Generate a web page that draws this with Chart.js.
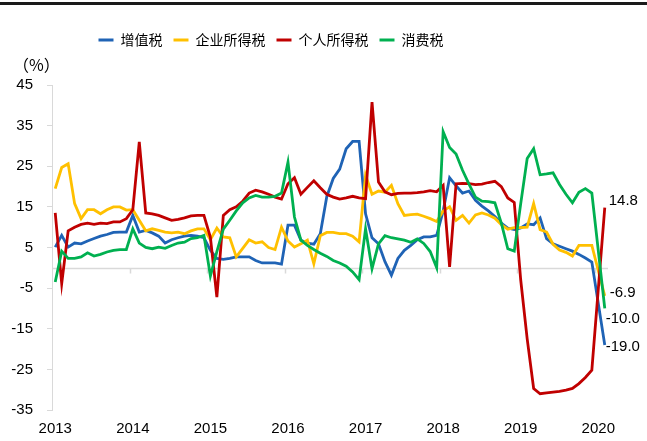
<!DOCTYPE html>
<html>
<head>
<meta charset="utf-8">
<title>税收收入增速</title>
<script src="https://cdn.jsdelivr.net/npm/chart.js@4.4.1/dist/chart.umd.min.js"></script>
<style>
  html, body { margin: 0; padding: 0; background: #fff; }
  #wrap { width: 647px; height: 441px; }
</style>
</head>
<body>
<div id="wrap"><canvas id="taxChart" width="647" height="441"></canvas></div>
<script>
// years shown on the x axis, data is monthly from Jan 2013 to Feb 2020
var yearLabels = ["2013", "2014", "2015", "2016", "2017", "2018", "2019", "2020"];
var lastYearMonths = 2;

var seriesNames = ["增值税", "企业所得税", "个人所得税", "消费税"];

// 增值税
var vatData = [
  5.1, 8.0, 5.1, 6.1, 5.9, 6.6, 7.2, 7.8, 8.2, 8.7, 8.8, 8.8,
  12.9, 8.8, 9.2, 8.6, 7.8, 6.1, 6.9, 7.4, 7.8, 8.0, 7.8, 7.4,
  4.3, 2.3, 2.1, 2.3, 2.7, 2.7, 2.7, 1.8, 1.2, 1.2, 1.2, 0.9,
  10.5, 10.5, 6.8, 6.1, 5.8, 8.4, 17.5, 22.0, 24.3, 29.3, 31.1, 31.1,
  13.3, 7.4, 5.9, 1.5, -1.8, 2.3, 4.3, 5.5, 6.9, 7.6, 7.6, 8.0,
  14.0, 22.2, 20.2, 18.4, 18.9, 16.6, 15.2, 14.0, 12.6, 11.0, 9.8, 9.4,
  9.8, 10.8, 10.6, 12.3, 7.2, 5.9, 5.3, 4.7, 4.1, 3.3, 2.4, 1.4,
  null, -19.0
];

// 企业所得税
var corpData = [
  19.5, 24.7, 25.6, 15.8, 12.1, 14.3, 14.3, 13.3, 14.3, 15.0, 15.0, 14.2,
  14.3, 11.7, 9.1, 9.6, 9.2, 8.8, 8.6, 8.8, 8.4, 9.1, 9.6, 9.6,
  6.9, 9.8, 7.6, 7.4, 2.7, 4.8, 6.9, 6.1, 6.4, 5.0, 4.5, 10.0,
  6.6, 5.1, 5.9, 6.8, 1.0, 7.9, 8.7, 8.7, 8.4, 8.4, 7.8, 6.4,
  22.8, 18.1, 18.9, 18.6, 20.3, 15.8, 12.9, 13.1, 13.2, 12.7, 12.1, 11.4,
  14.0, 15.0, 11.7, 12.9, 11.0, 13.0, 13.5, 13.0, 12.2, 10.6, 9.5, 9.9,
  9.9, 10.0, 15.8, 9.4, 8.8, 5.8, 4.4, 3.8, 2.9, 5.5, 5.5, 5.5,
  null, -6.9
];

// 个人所得税
var pitData = [
  13.5, -3.9, 9.1, 10.0, 10.7, 11.0, 10.7, 11.0, 10.9, 11.3, 11.3, 12.1,
  14.3, 31.0, 13.5, 13.3, 12.9, 12.3, 11.7, 11.9, 12.3, 12.8, 12.9, 12.9,
  7.5, -7.2, 12.9, 14.3, 15.0, 16.4, 18.4, 19.1, 18.7, 18.1, 17.4, 16.9,
  20.7, 22.2, 18.1, 19.8, 21.4, 19.7, 18.1, 17.4, 16.9, 17.2, 17.6, 17.2,
  17.0, 40.8, 21.1, 18.7, 18.0, 18.3, 18.4, 18.4, 18.5, 18.7, 19.0, 18.7,
  20.3, 0.2, 20.7, 20.8, 20.7, 20.5, 20.6, 21.0, 21.3, 20.0, 17.2, 16.1,
  -3.0, -17.5, -29.7, -31.0, -30.8, -30.6, -30.4, -30.1, -29.7, -28.5, -27.0, -25.2,
  null, 14.8
];

// 消费税
var consData = [
  -3.5, 4.1, 2.3, 2.3, 2.7, 3.7, 2.9, 3.3, 3.9, 4.3, 4.5, 4.5,
  9.6, 6.1, 5.0, 4.7, 5.1, 4.8, 5.5, 6.1, 6.3, 7.2, 7.4, 8.0,
  -2.0, 4.0, 9.5, 11.7, 14.0, 16.0, 17.2, 17.8, 17.4, 17.4, 17.6, 18.4,
  26.0, 12.5, 6.8, 5.5, 4.5, 3.6, 2.8, 1.8, 1.2, 0.4, -1.0, -2.9,
  9.6, -0.2, 5.9, 7.9, 7.4, 7.1, 6.8, 6.3, 7.1, 6.0, 4.0, 0.0,
  33.5, 29.6, 28.0, 24.0, 20.6, 17.4, 16.4, 16.3, 16.0, 11.0, 4.7, 4.1,
  15.8, 26.9, 29.3, 22.9, 23.1, 23.4, 20.5, 18.1, 16.0, 18.6, 19.5, 18.4,
  null, -10.0
];

var seriesColors = ["#1f63b5", "#ffc000", "#c00000", "#00b050"];
// where the value tag sits next to the last point [dx, dy]
var endLabelShift = [[1, 2], [5, -3], [4, -7], [1, 10]];

document.addEventListener("DOMContentLoaded", function () {
  var monthLabels = [];
  yearLabels.forEach(function (y, i) {
    var n = i === yearLabels.length - 1 ? lastYearMonths : 12;
    for (var m = 1; m <= n; m++) {
      monthLabels.push(y + "-" + (m < 10 ? "0" + m : m));
    }
  });

  var axisFont = { family: "Arial, 'Liberation Sans'", size: 15 };

  var topRule = {
    id: "topRule",
    beforeDraw: function (chart) {
      var ctx = chart.ctx;
      ctx.save();
      ctx.fillStyle = "#1a1a1a";
      ctx.fillRect(0, 2, chart.width, 3);
      ctx.fillStyle = "#000";
      ctx.font = "16px 'Noto Sans CJK SC'";
      ctx.textBaseline = "middle";
      ctx.textAlign = "left";
      ctx.fillText("（%）", 13, 65);
      ctx.restore();
    }
  };

  var zeroLine = {
    id: "zeroLine",
    beforeDatasetsDraw: function (chart) {
      var ctx = chart.ctx;
      var area = chart.chartArea;
      var xs = chart.scales.x;
      var y0 = Math.round(chart.scales.y.getPixelForValue(0)) + 0.5;
      ctx.save();
      ctx.strokeStyle = "#d9d9d9";
      ctx.lineWidth = 1.5;
      ctx.beginPath();
      ctx.moveTo(area.left, y0);
      ctx.lineTo(area.right, y0);
      for (var i = 12; i < monthLabels.length; i += 12) {
        var tx = Math.round((xs.getPixelForValue(i - 1) + xs.getPixelForValue(i)) / 2) + 0.5;
        ctx.moveTo(tx, y0);
        ctx.lineTo(tx, y0 + 5);
      }
      ctx.stroke();
      ctx.restore();
    }
  };

  var endLabels = {
    id: "endLabels",
    afterDatasetsDraw: function (chart) {
      var ctx = chart.ctx;
      ctx.save();
      ctx.fillStyle = "#000";
      ctx.font = "15px Arial, 'Liberation Sans'";
      ctx.textAlign = "left";
      ctx.textBaseline = "middle";
      chart.data.datasets.forEach(function (ds, i) {
        var meta = chart.getDatasetMeta(i);
        var last = ds.data.length - 1;
        var pt = meta.data[last];
        ctx.fillText(ds.data[last].toFixed(1), pt.x + endLabelShift[i][0], pt.y + endLabelShift[i][1]);
      });
      ctx.restore();
    }
  };

  // legend sits a bit left of centre and leaves room above the plot
  var legendPlace = {
    id: "legendPlace",
    beforeInit: function (chart) {
      var fit = chart.legend.fit;
      chart.legend.fit = function () {
        fit.bind(chart.legend)();
        this.height = 63;
      };
    },
    afterLayout: function (chart) {
      chart.legend.right = chart.legend.right - 66;
    }
  };

  var allData = [vatData, corpData, pitData, consData];
  var datasets = allData.map(function (d, i) {
    return {
      label: seriesNames[i],
      data: d,
      borderColor: seriesColors[i],
      backgroundColor: seriesColors[i],
      borderWidth: 2.8,
      pointRadius: 0,
      tension: 0,
      spanGaps: true,
      order: allData.length - i
    };
  });

  var ctx = document.getElementById("taxChart").getContext("2d");
  new Chart(ctx, {
    type: "line",
    data: { labels: monthLabels, datasets: datasets },
    options: {
      responsive: false,
      animation: false,
      devicePixelRatio: 1,
      layout: { padding: { top: 22, right: 39, bottom: 0, left: 0 } },
      plugins: {
        legend: {
          position: "top",
          labels: {
            boxWidth: 15,
            boxHeight: 3,
            padding: 11,
            color: "#000",
            font: { family: "'Noto Sans CJK SC'", size: 14 },
            sort: function (a, b) { return a.datasetIndex - b.datasetIndex; },
            generateLabels: function (chart) {
              var items = Chart.defaults.plugins.legend.labels.generateLabels(chart);
              items.forEach(function (it) {
                it.lineWidth = 0;
                it.fillStyle = it.strokeStyle;
              });
              return items;
            }
          }
        },
        tooltip: { enabled: false }
      },
      scales: {
        x: {
          type: "category",
          offset: true,
          afterFit: function (scale) { scale.height = 31; },
          grid: { display: false, drawTicks: false },
          border: { display: false },
          ticks: {
            autoSkip: false,
            maxRotation: 0,
            padding: 10,
            color: "#000",
            font: axisFont,
            callback: function (val, idx) {
              var lab = monthLabels[idx];
              return lab.slice(5) === "01" ? lab.slice(0, 4) : "";
            }
          }
        },
        y: {
          min: -35,
          max: 45,
          afterFit: function (scale) { scale.width = 52; },
          ticks: { stepSize: 10, padding: 14, color: "#000", font: axisFont },
          grid: { drawOnChartArea: false, drawTicks: true, tickLength: 5, color: "#d9d9d9" },
          border: { color: "#d9d9d9", width: 1 }
        }
      }
    },
    plugins: [topRule, zeroLine, endLabels, legendPlace]
  });
});
</script>
</body>
</html>
